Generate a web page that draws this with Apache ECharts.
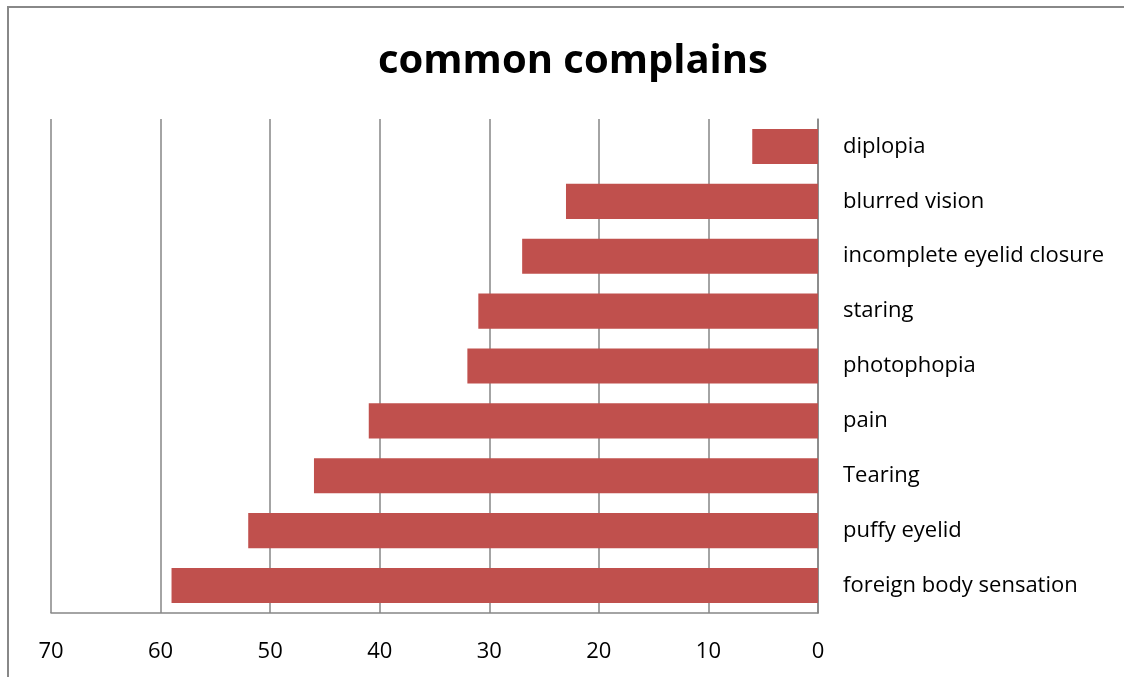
<!DOCTYPE html>
<html>
<head>
<meta charset="utf-8">
<script src="https://cdn.jsdelivr.net/npm/echarts@6/dist/echarts.min.js"></script>
<style>
html,body{margin:0;padding:0;background:#fff;}
#chart{width:1124px;height:677px;}
</style>
</head>
<body>
<div id="chart"></div>
<script>
const categories = ["foreign body sensation","puffy eyelid","Tearing","pain","photophopia","staring","incomplete eyelid closure","blurred vision","diplopia"];
const values = [59, 52, 46, 41, 32, 31, 27, 23, 6];
const tickValues = [0, 10, 20, 30, 40, 50, 60, 70];

const chart = echarts.init(document.getElementById('chart'));
const font = "Open Sans, Noto Sans, sans-serif";
chart.setOption({
  animation: false,
  backgroundColor: '#fff',
  title: {
    text: 'common complains',
    left: 373,
    top: 37,
    textStyle: {fontFamily: font, fontWeight: 'bold', fontSize: 40, color: '#000'}
  },
  graphic: [{
    type: 'rect',
    shape: {x: 8, y: 7, width: 1200, height: 800},
    style: {fill: 'none', stroke: '#888', lineWidth: 2},
    silent: true
  }],
  grid: {left: 51, right: 306, top: 119, bottom: 64},
  xAxis: {
    type: 'value',
    inverse: true,
    min: tickValues[0],
    max: tickValues[tickValues.length - 1],
    interval: 10,
    axisLine: {show: true, lineStyle: {color: '#868686', width: 1.5}},
    axisTick: {show: false},
    splitLine: {show: true, lineStyle: {color: '#868686', width: 1.5}},
    axisLabel: {color: '#000', fontFamily: font, fontSize: 22, margin: 28}
  },
  yAxis: {
    type: 'category',
    position: 'right',
    data: categories,
    axisLine: {show: true, lineStyle: {color: '#868686', width: 1.5}},
    axisTick: {show: false},
    axisLabel: {color: '#000', fontFamily: font, fontSize: 22, margin: 25, align: 'left', lineHeight: 26, verticalAlign: 'middle'}
  },
  series: [{
    type: 'bar',
    data: values,
    barCategoryGap: '36%',
    itemStyle: {color: '#C0504D'}
  }]
});
</script>
</body>
</html>
